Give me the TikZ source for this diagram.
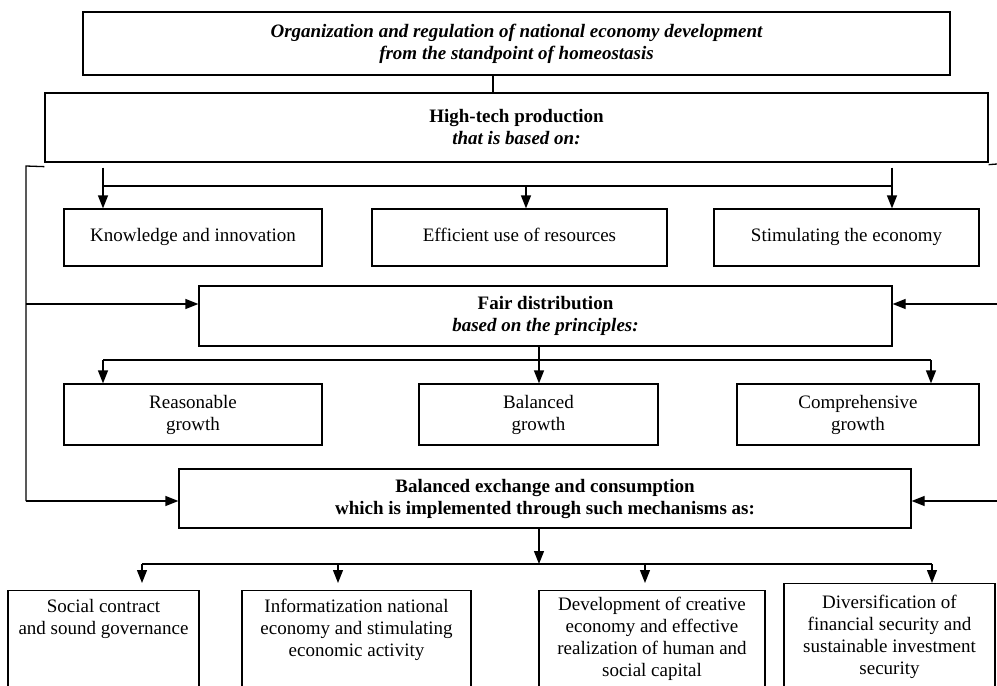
\documentclass[tikz,border=0pt]{standalone}
\usepackage{fontspec}
\setmainfont{Liberation Serif}
\usetikzlibrary{arrows.meta,calc}
\newcommand\fsz{\fontsize{19}{22}\selectfont}
\begin{document}
\begin{tikzpicture}[x=1pt,y=-1pt,
  box/.style={draw, line width=1.3pt, inner sep=0pt, align=center, font=\fsz},
  onel/.style={text height=13pt, text depth=5pt},
  txt/.style={inner sep=0pt, align=center, font=\fsz},
  ln/.style={line width=1.3pt},
  arr/.style={line width=1.3pt, -{Triangle[length=13pt,width=10pt]}}]
\useasboundingbox (0,0) rectangle (997,686);
\clip (0,0) rectangle (997,686);
% main boxes
\node[box, font=\fsz\bfseries\itshape, minimum width=867pt, minimum height=63pt] (top) at (516.5,43.5)
  {Organization and regulation of national economy development\\from the standpoint of homeostasis};
\node[box, minimum width=943pt, minimum height=69pt] (ht) at (516.5,127.5)
  {\textbf{High-tech production}\\\textbf{\textit{that is based on:}}};
\node[box, onel, minimum width=258pt, minimum height=57pt] (kn) at (193,237.5) {Knowledge and innovation};
\node[box, onel, minimum width=295pt, minimum height=57pt] (ef) at (519.5,237.5) {Efficient use of resources};
\node[box, onel, minimum width=265pt, minimum height=57pt] (st) at (846.5,237.5) {Stimulating the economy};
\node[box, minimum width=693pt, minimum height=60pt] (fair) at (545.5,316)
  {\textbf{Fair distribution}\\\textbf{\textit{based on the principles:}}};
\node[box, minimum width=258pt, minimum height=61pt] (re) at (193,414.5) {Reasonable\\growth};
\node[box, minimum width=239pt, minimum height=61pt] (ba) at (538.5,414.5) {Balanced\\growth};
\node[box, minimum width=242pt, minimum height=61pt] (co) at (858,414.5) {Comprehensive\\growth};
\node[box, font=\fsz\bfseries, minimum width=732pt, minimum height=59pt] (bex) at (545,498.5)
  {Balanced exchange and consumption\\which is implemented through such mechanisms as:};
% bottom row (boxes run past the lower edge)
\node[box, minimum width=191pt, minimum height=140pt, anchor=north] (so) at (103.5,590) {};
\node[box, minimum width=229pt, minimum height=140pt, anchor=north] (inf) at (356.5,590) {};
\node[box, minimum width=226pt, minimum height=140pt, anchor=north] (de) at (652,590) {};
\node[box, minimum width=211pt, minimum height=140pt, anchor=north] (di) at (889.5,583) {};
\node[txt, anchor=north] (sot) at ([yshift=-9pt]so.north) {Social contract\\and sound governance};
\node[txt, anchor=north] (inft) at ([yshift=-9pt]inf.north) {Informatization national\\economy and stimulating\\economic activity};
\node[txt, anchor=north] (det) at ([yshift=-7pt]de.north) {Development of creative\\economy and effective\\realization of human and\\social capital};
\node[txt, anchor=north] (dit) at ([yshift=-12pt]di.north) {Diversification of\\financial security and\\sustainable investment\\security};
% top -> high-tech
\draw[ln] ([xshift=-23.5pt]top.south) -- ([xshift=-23.5pt]top.south |- ht.north);
% high-tech branch
\coordinate (h1) at (103,186);
\coordinate (h2) at (526,186);
\coordinate (h3) at (892,186);
\draw[arr] ([yshift=-5pt]ht.south -| h1) -- (h1 |- kn.north);
\draw[arr] ([yshift=-5pt]ht.south -| h3) -- (h3 |- st.north);
\draw[ln] (h1) -- (h3);
\draw[arr] (h2) -- (h2 |- ef.north);
% left feedback
\coordinate (L1) at (26,166);
\coordinate (L2) at (26,304);
\coordinate (L3) at (26,501);
\draw[ln] ([yshift=-4pt]ht.south west) -- (L1) -- (L3);
\draw[arr] (L2) -- (L2 -| fair.west);
\draw[arr] (L3) -- (L3 -| bex.west);
% right feedback
\coordinate (R1) at (997,164);
\coordinate (R2) at (997,304);
\coordinate (R3) at (997,501);
\draw[ln] ([yshift=-2pt]ht.south east) -- (R1);
\draw[arr] (R2) -- (R2 -| fair.east);
\draw[arr] (R3) -- (R3 -| bex.east);
% fair branch
\coordinate (f1) at (103,360);
\coordinate (f2) at (539,360);
\coordinate (f3) at (931,360);
\draw[arr] (fair.south -| f2) -- (f2 |- ba.north);
\draw[ln] (f1) -- (f3);
\draw[arr] (f1) -- (f1 |- re.north);
\draw[arr] (f3) -- (f3 |- co.north);
% exchange branch
\coordinate (e0) at (539,564);
\coordinate (e1) at (142,564);
\coordinate (e2) at (338,564);
\coordinate (e3) at (645,564);
\coordinate (e4) at (932,564);
\draw[arr] (bex.south -| e0) -- (e0);
\draw[ln] (e1) -- (e4);
\draw[arr] (e1) -- ([yshift=7pt]e1 |- so.north);
\draw[arr] (e2) -- ([yshift=7pt]e2 |- inf.north);
\draw[arr] (e3) -- ([yshift=7pt]e3 |- de.north);
\draw[arr] (e4) -- (e4 |- di.north);
\end{tikzpicture}
\end{document}
